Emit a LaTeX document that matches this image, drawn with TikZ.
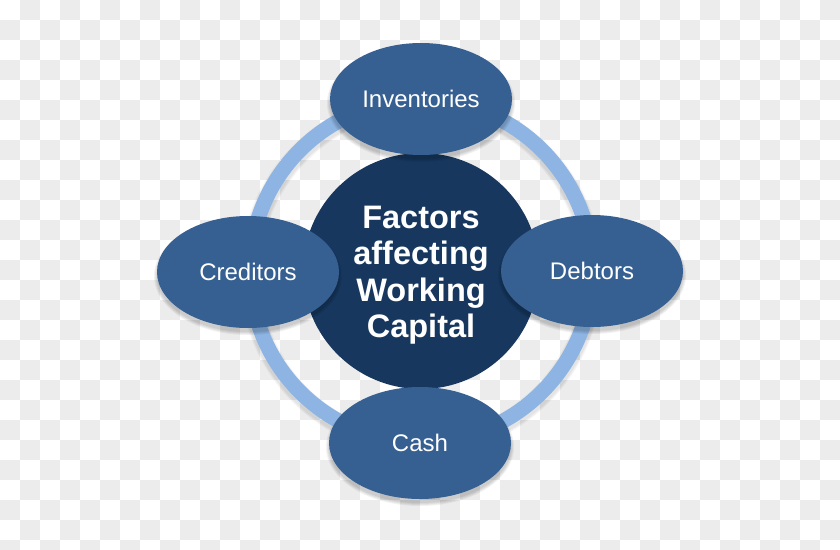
\documentclass[tikz,border=0pt]{standalone}
\usepackage{fontspec}
\setmainfont{Liberation Sans}
\usetikzlibrary{shapes.geometric}
\definecolor{bgGray}{HTML}{ECECEC}
\definecolor{ovalBlue}{HTML}{366092}
\definecolor{hubNavy}{HTML}{17375E}
\definecolor{ringBlue}{HTML}{8DB4E2}
\tikzset{
  factor/.style={ellipse, fill=ovalBlue, minimum width=182pt, minimum height=112pt,
    inner sep=0pt, text=white, font=\fontsize{24}{29}\selectfont},
  hub/.style={circle, fill=hubNavy, minimum size=236pt, inner sep=0pt, text=white,
    align=center, font=\bfseries\fontsize{32.5}{36.5}\selectfont},
  softshade/.style={fill=black, opacity=0.05},
}
\begin{document}
\begin{tikzpicture}[x=1pt,y=-1pt]
\useasboundingbox (0,0) rectangle (840,549);
% checkerboard background
\begin{scope}
  \clip (0,0) rectangle (840,549);
  \fill[white] (0,0) rectangle (840,549);
  \foreach \i in {0,...,41} {
    \foreach \j in {0,...,27} {
      \pgfmathtruncatemacro\parity{mod(\i+\j,2)}
      \ifnum\parity=1
        \fill[bgGray] (20*\i,20*\j) rectangle ++(20,20);
      \fi
    }
  }
\end{scope}
% ring with soft shadow
\foreach \w in {21,19,17} {
  \draw[black, opacity=0.035, line width=\w pt] (421,274) circle [radius=171];
}
\draw[ringBlue, line width=15pt] (421,271) circle [radius=171];
% hub
\node[hub] (hub) at (421,271) {};
\node[text=white, align=center, font=\bfseries\fontsize{32.5}{36.5}\selectfont]
  (hubtext) at (421,275) {Factors\\affecting\\Working\\Capital};
% soft shadows under factor ovals
\foreach \cx/\cy in {421/99, 248/272, 592/271, 420/443} {
  \foreach \g in {1,2,3,4} {
    \fill[softshade] (\cx,\cy+4) ellipse [x radius=90+\g, y radius=55+\g];
  }
}
% factor ovals
\node[factor] (inv) at (421,99) {Inventories};
\node[factor] (cred) at (248,272) {Creditors};
\node[factor] (debt) at (592,271) {Debtors};
\node[factor] (cash) at (420,443) {Cash};
\end{tikzpicture}
\end{document}
